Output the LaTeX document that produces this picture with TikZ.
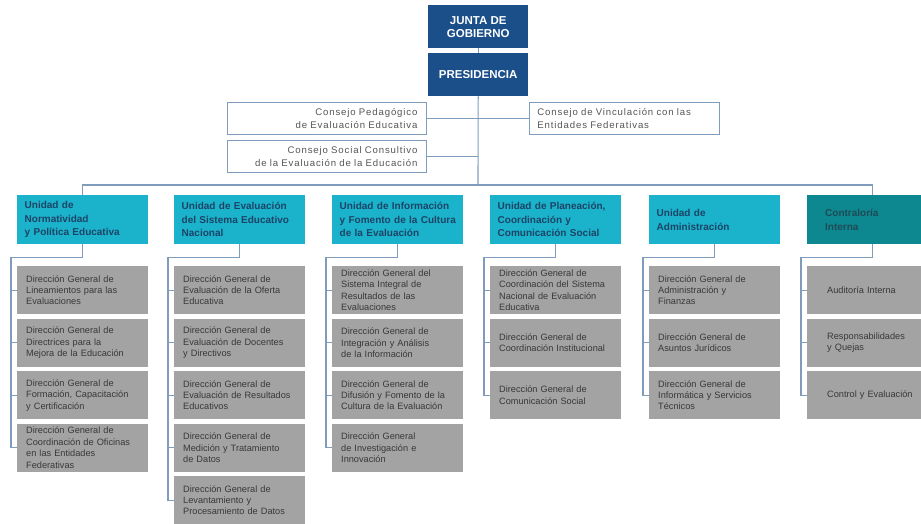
\documentclass[tikz,border=0pt]{standalone}
\usepackage{fontspec}
\setmainfont{Liberation Sans}
\newfontfamily\spacedfont[LetterSpace=9]{Liberation Sans}
\definecolor{navyc}{HTML}{1B4F8A}
\definecolor{cyanc}{HTML}{1BB2CB}
\definecolor{tealc}{HTML}{0E8890}
\definecolor{grayc}{HTML}{A3A3A3}
\definecolor{linec}{HTML}{7F9CBD}
\definecolor{unittext}{HTML}{1C4466}
\definecolor{tealtext}{HTML}{1E4A55}
\definecolor{graytext}{HTML}{383838}
\definecolor{constext}{HTML}{555555}
\begin{document}
\begin{tikzpicture}[x=1pt,y=-1pt,
  conn/.style={draw=linec,line width=1.1pt},
  topbox/.style={fill=navyc,text=white,minimum width=100pt,minimum height=43pt,inner sep=0pt,anchor=north west,align=center,font=\bfseries\fontsize{11.5}{13}\selectfont},
  consbox/.style={draw=linec,line width=0.9pt,fill=white,minimum height=32pt,inner ysep=0pt,anchor=north west,text=constext,font=\spacedfont\fontsize{9.6}{13}\selectfont},
  unitbox/.style={fill=cyanc,text=unittext,text width=116pt,inner xsep=7.5pt,inner ysep=0pt,minimum height=49pt,anchor=north west,align=left,execute at begin node={\hyphenpenalty=10000\relax},font=\bfseries\fontsize{10}{13.5}\selectfont},
  contbox/.style={unitbox,fill=tealc,text=tealtext,text width=95pt,inner xsep=18pt},
  dirbox/.style={fill=grayc,text=graytext,text width=113pt,inner xsep=9pt,inner ysep=0pt,minimum height=48pt,anchor=north west,align=left,execute at begin node={\hyphenpenalty=10000\relax},font=\fontsize{9.2}{11.4}\selectfont},
  dirbox6/.style={dirbox,text width=91pt,inner xsep=20pt}]
\path[use as bounding box] (0,0) rectangle (921,523);
\clip (0,0) rectangle (921,523);

% top
\node[topbox] (junta) at (428,5) {JUNTA DE\\GOBIERNO};
\node[topbox] (pres) at (428,53) {PRESIDENCIA};
\node[consbox,text width=181pt,inner xsep=9pt,align=right] (ped) at (227,102) {Consejo Pedagógico\\de Evaluación Educativa};
\node[consbox,text width=181pt,inner xsep=9pt,align=right] (soc) at (227,140) {Consejo Social Consultivo\\de la Evaluación de la Educación};
\node[consbox,text width=174pt,inner xsep=8pt,align=left] (vin) at (529,102) {Consejo de Vinculación con las\\Entidades Federativas};
\coordinate (hub) at (478,185);

\draw[conn] (junta.south) -- (pres.north);
\draw[conn] (pres.south) -- (hub);
\draw[conn] (ped.east) -- (vin.west);
\draw[conn] (soc.east) -- (soc.east -| pres.south);

% units
\node[unitbox] (u1) at (17,195) {Unidad de\\Normatividad\\y Política Educativa};
\node[unitbox] (u2) at (174,195) {Unidad de Evaluación\\del Sistema Educativo\\Nacional};
\node[unitbox] (u3) at (332,195) {Unidad de Información\\y~Fomento~de~la~Cultura\\de la Evaluación};
\node[unitbox] (u4) at (490,195) {Unidad de Planeación,\\Coordinación y\\Comunicación Social};
\node[unitbox] (u5) at (649,195) {Unidad de\\Administración};
\node[contbox] (u6) at (807,195) {Contraloría\\Interna};

\draw[conn] (u1.north) |- (hub) -| (u6.north);

% column 1
\node[dirbox] (g11) at (17,266) {Dirección General de\\Lineamientos para las\\Evaluaciones};
\node[dirbox] (g12) at (17,318.5) {Dirección General de\\Directrices para la\\Mejora de la Educación};
\node[dirbox] (g13) at (17,371) {Dirección General de\\Formación, Capacitación\\y Certificación};
\node[dirbox] (g14) at (17,423.5) {Dirección General de\\Coordinación de Oficinas\\en las Entidades\\Federativas};
% column 2
\node[dirbox] (g21) at (174,266) {Dirección General de\\Evaluación de la Oferta\\Educativa};
\node[dirbox] (g22) at (174,318.5) {Dirección General de\\Evaluación de Docentes\\y Directivos};
\node[dirbox] (g23) at (174,371) {Dirección General de\\Evaluación de Resultados\\Educativos};
\node[dirbox] (g24) at (174,423.5) {Dirección General de\\Medición y Tratamiento\\de Datos};
\node[dirbox] (g25) at (174,476) {Dirección General de\\Levantamiento y\\Procesamiento de Datos};
% column 3
\node[dirbox] (g31) at (332,266) {Dirección General del\\Sistema Integral de\\Resultados de las\\Evaluaciones};
\node[dirbox] (g32) at (332,318.5) {Dirección General de\\Integración y Análisis\\de la Información};
\node[dirbox] (g33) at (332,371) {Dirección General de\\Difusión y Fomento de la\\Cultura de la Evaluación};
\node[dirbox] (g34) at (332,423.5) {Dirección General\\de Investigación e\\Innovación};
% column 4
\node[dirbox] (g41) at (490,266) {Dirección General de\\Coordinación del Sistema\\Nacional de Evaluación\\Educativa};
\node[dirbox] (g42) at (490,318.5) {Dirección General de\\Coordinación Institucional};
\node[dirbox] (g43) at (490,371) {Dirección General de\\Comunicación Social};
% column 5
\node[dirbox] (g51) at (649,266) {Dirección General de\\Administración y\\Finanzas};
\node[dirbox] (g52) at (649,318.5) {Dirección General de\\Asuntos Jurídicos};
\node[dirbox] (g53) at (649,371) {Dirección General de\\Informática y Servicios\\Técnicos};
% column 6
\node[dirbox6] (g61) at (807,266) {Auditoría Interna};
\node[dirbox6] (g62) at (807,318.5) {Responsabilidades\\y Quejas};
\node[dirbox6] (g63) at (807,371) {Control y Evaluación};

% column connectors
\draw[conn] (u1.south) -- ([yshift=-13pt]u1.south) -| ([xshift=-6pt]g14.west) -- (g14.west);
\foreach \g in {g11,g12,g13} \draw[conn] ([xshift=-6pt]\g.west) -- (\g.west);
\draw[conn] (u2.south) -- ([yshift=-13pt]u2.south) -| ([xshift=-6pt]g25.west) -- (g25.west);
\foreach \g in {g21,g22,g23,g24} \draw[conn] ([xshift=-6pt]\g.west) -- (\g.west);
\draw[conn] (u3.south) -- ([yshift=-13pt]u3.south) -| ([xshift=-6pt]g34.west) -- (g34.west);
\foreach \g in {g31,g32,g33} \draw[conn] ([xshift=-6pt]\g.west) -- (\g.west);
\draw[conn] (u4.south) -- ([yshift=-13pt]u4.south) -| ([xshift=-6pt]g43.west) -- (g43.west);
\foreach \g in {g41,g42} \draw[conn] ([xshift=-6pt]\g.west) -- (\g.west);
\draw[conn] (u5.south) -- ([yshift=-13pt]u5.south) -| ([xshift=-6pt]g53.west) -- (g53.west);
\foreach \g in {g51,g52} \draw[conn] ([xshift=-6pt]\g.west) -- (\g.west);
\draw[conn] (u6.south) -- ([yshift=-13pt]u6.south) -| ([xshift=-6pt]g63.west) -- (g63.west);
\foreach \g in {g61,g62} \draw[conn] ([xshift=-6pt]\g.west) -- (\g.west);
\end{tikzpicture}
\end{document}
